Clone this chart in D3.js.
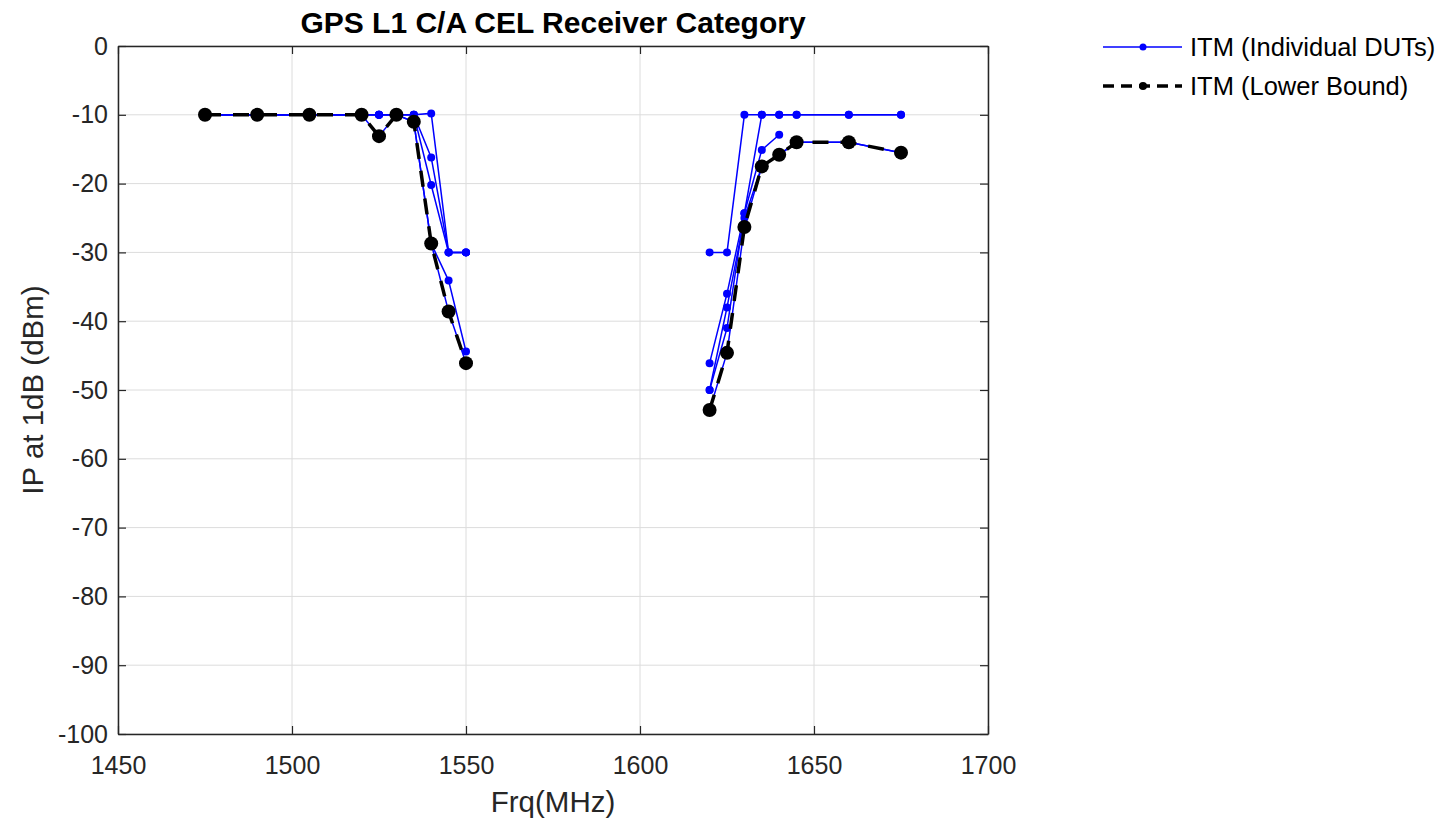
<!DOCTYPE html>
<html>
<head>
<meta charset="utf-8">
<script src="https://cdn.jsdelivr.net/npm/d3@7"></script>
<style>
  html, body { margin: 0; padding: 0; background: #ffffff; }
  svg { display: block; font-family: "Liberation Sans", Arial, sans-serif; }
</style>
</head>
<body>
<svg id="chart" width="1448" height="822"></svg>
<script>
// ---- data ----
const freqLow  = [1475, 1490, 1505, 1520, 1525, 1530, 1535, 1540, 1545, 1550];
const freqHigh = [1620, 1625, 1630, 1635, 1640, 1645, 1660, 1675];

// individual DUTs, lower band
const dut1Low = [-10, -10, -10, -10, -10,   -10, -10,   -9.8,  -30,   -30];
const dut2Low = [-10, -10, -10, -10, -10,   -10, -10,  -16.2,  -30,   -30];
const dut3Low = [-10, -10, -10, -10, -10,   -10, -10,  -20.2,  -30,   -30];
const dut4Low = [-10, -10, -10, -10, -13.1, -10, -11,  -28.7, -34.1, -44.4];
const dut5Low = [-10, -10, -10, -10, -10,   -10, -11,  -28.7, -38.6, -46.1];

// individual DUTs, upper band (null = not measured)
const dut1High = [-30,   -30,   -10,   -10,   -10,   -10,  -10,  -10];
const dut2High = [-46.1, -36,   -24.3, -10,   -10,   -10,  -10,  -10];
const dut3High = [-50,   -41,   -24.3, -15.1, -12.9, null, null, null];
const dut4High = [-52.9, -44.6, -26.3, -17.5, -15.8, -14,  -14,  -15.5];
const dut5High = [-50,   -38,   -25,   -17.5, -15.8, -14,  -14,  -15.5];

// lower bound
const boundLow  = [-10, -10, -10, -10, -13.1, -10, -11, -28.7, -38.6, -46.1];
const boundHigh = [-52.9, -44.6, -26.3, -17.5, -15.8, -14, -14, -15.5];

const xTicks = [1450, 1500, 1550, 1600, 1650, 1700];
const yTicks = [0, -10, -20, -30, -40, -50, -60, -70, -80, -90, -100];

const titleText = "GPS L1 C/A CEL Receiver Category";
const xLabel = "Frq(MHz)";
const yLabel = "IP at 1dB (dBm)";
const legendLabels = ["ITM (Individual DUTs)", "ITM (Lower Bound)"];

// ---- layout ----
const L = 118, T = 46, W = 870, H = 688;
const svg = d3.select("#chart");
const axisColor = "#262626";

const x = d3.scaleLinear().domain([1450, 1700]).range([L, L + W]);
const y = d3.scaleLinear().domain([-100, 0]).range([T + H, T]);

// plot background
svg.append("rect").attr("x", L).attr("y", T).attr("width", W).attr("height", H).attr("fill", "#fff");

// grid
const grid = svg.append("g");
grid.selectAll(".gx").data(xTicks).join("line")
  .attr("x1", d => x(d)).attr("x2", d => x(d)).attr("y1", T).attr("y2", T + H)
  .attr("stroke", "#dcdcdc").attr("stroke-width", 1);
grid.selectAll(".gy").data(yTicks).join("line")
  .attr("x1", L).attr("x2", L + W).attr("y1", d => y(d)).attr("y2", d => y(d))
  .attr("stroke", "#dcdcdc").attr("stroke-width", 1);

// ---- series ----
const duts = [
  [dut1Low, dut1High], [dut2Low, dut2High], [dut3Low, dut3High],
  [dut4Low, dut4High], [dut5Low, dut5High]
];
const line = d3.line().defined(d => d[1] !== null).x(d => x(d[0])).y(d => y(d[1]));
const zip = (f, v) => f.map((fr, i) => [fr, v[i]]);

const blue = "#0000ff";
const gDut = svg.append("g");
duts.forEach(([lo, hi]) => {
  [zip(freqLow, lo), zip(freqHigh, hi)].forEach(pts => {
    gDut.append("path").datum(pts).attr("d", line)
      .attr("fill", "none").attr("stroke", blue).attr("stroke-width", 1.5);
    gDut.selectAll(null).data(pts.filter(d => d[1] !== null)).join("circle")
      .attr("cx", d => x(d[0])).attr("cy", d => y(d[1])).attr("r", 4).attr("fill", blue);
  });
});

const gB = svg.append("g");
[zip(freqLow, boundLow), zip(freqHigh, boundHigh)].forEach(pts => {
  gB.append("path").datum(pts).attr("d", line)
    .attr("fill", "none").attr("stroke", "#000").attr("stroke-width", 3.5)
    .attr("stroke-dasharray", "16,12");
  gB.selectAll(null).data(pts).join("circle")
    .attr("cx", d => x(d[0])).attr("cy", d => y(d[1])).attr("r", 7).attr("fill", "#000");
});

// ---- axes ----
const fontTick = 25;
const fmt = d => String(d);
const xAxis = d3.axisBottom(x).tickValues(xTicks).tickFormat(fmt)
  .tickSizeInner(-8).tickSizeOuter(0).tickPadding(22);
const gx = svg.append("g").attr("transform", `translate(0,${T + H})`).call(xAxis);
const yAxis = d3.axisLeft(y).tickValues(yTicks).tickFormat(fmt)
  .tickSizeInner(-8).tickSizeOuter(0).tickPadding(10);
const gy = svg.append("g").attr("transform", `translate(${L},0)`).call(yAxis);
const xTop = d3.axisTop(x).tickValues(xTicks).tickFormat("").tickSizeInner(-8).tickSizeOuter(0);
const gxt = svg.append("g").attr("transform", `translate(0,${T})`).call(xTop);
const yRight = d3.axisRight(y).tickValues(yTicks).tickFormat("").tickSizeInner(-8).tickSizeOuter(0);
const gyr = svg.append("g").attr("transform", `translate(${L + W},0)`).call(yRight);

[gx, gy, gxt, gyr].forEach(g => {
  g.selectAll(".domain").attr("stroke", axisColor).attr("stroke-width", 1.5);
  g.selectAll(".tick line").attr("stroke", axisColor).attr("stroke-width", 1.2);
  g.selectAll(".tick text").attr("fill", axisColor)
    .style("font-family", '"Liberation Sans", Arial, sans-serif').style("font-size", fontTick + "px");
});

// ---- titles ----
svg.append("text").attr("x", L + W / 2).attr("y", 33).attr("text-anchor", "middle")
  .style("font-size", "30px").style("font-weight", "bold").attr("fill", "#000").text(titleText);
svg.append("text").attr("x", L + W / 2).attr("y", 812).attr("text-anchor", "middle")
  .style("font-size", "29.5px").attr("fill", axisColor).text(xLabel);
svg.append("text").attr("transform", `translate(43,${T + H / 2}) rotate(-90)`)
  .attr("text-anchor", "middle").style("font-size", "29.5px").attr("fill", axisColor).text(yLabel);

// ---- legend ----
const lg = svg.append("g");
const legY = [47, 86];
lg.append("line").attr("x1", 1103).attr("x2", 1182).attr("y1", legY[0]).attr("y2", legY[0])
  .attr("stroke", blue).attr("stroke-width", 1.5);
lg.append("circle").attr("cx", 1143).attr("cy", legY[0]).attr("r", 3.5).attr("fill", blue);
lg.append("line").attr("x1", 1103).attr("x2", 1182).attr("y1", legY[1]).attr("y2", legY[1])
  .attr("stroke", "#000").attr("stroke-width", 3.5).attr("stroke-dasharray", "11,7");
lg.append("circle").attr("cx", 1143).attr("cy", legY[1]).attr("r", 4).attr("fill", "#000");
legendLabels.forEach((t, i) => {
  lg.append("text").attr("x", 1190).attr("y", legY[i]).attr("dy", "0.35em")
    .style("font-size", "25.5px").attr("fill", "#000").text(t);
});
</script>
</body>
</html>
